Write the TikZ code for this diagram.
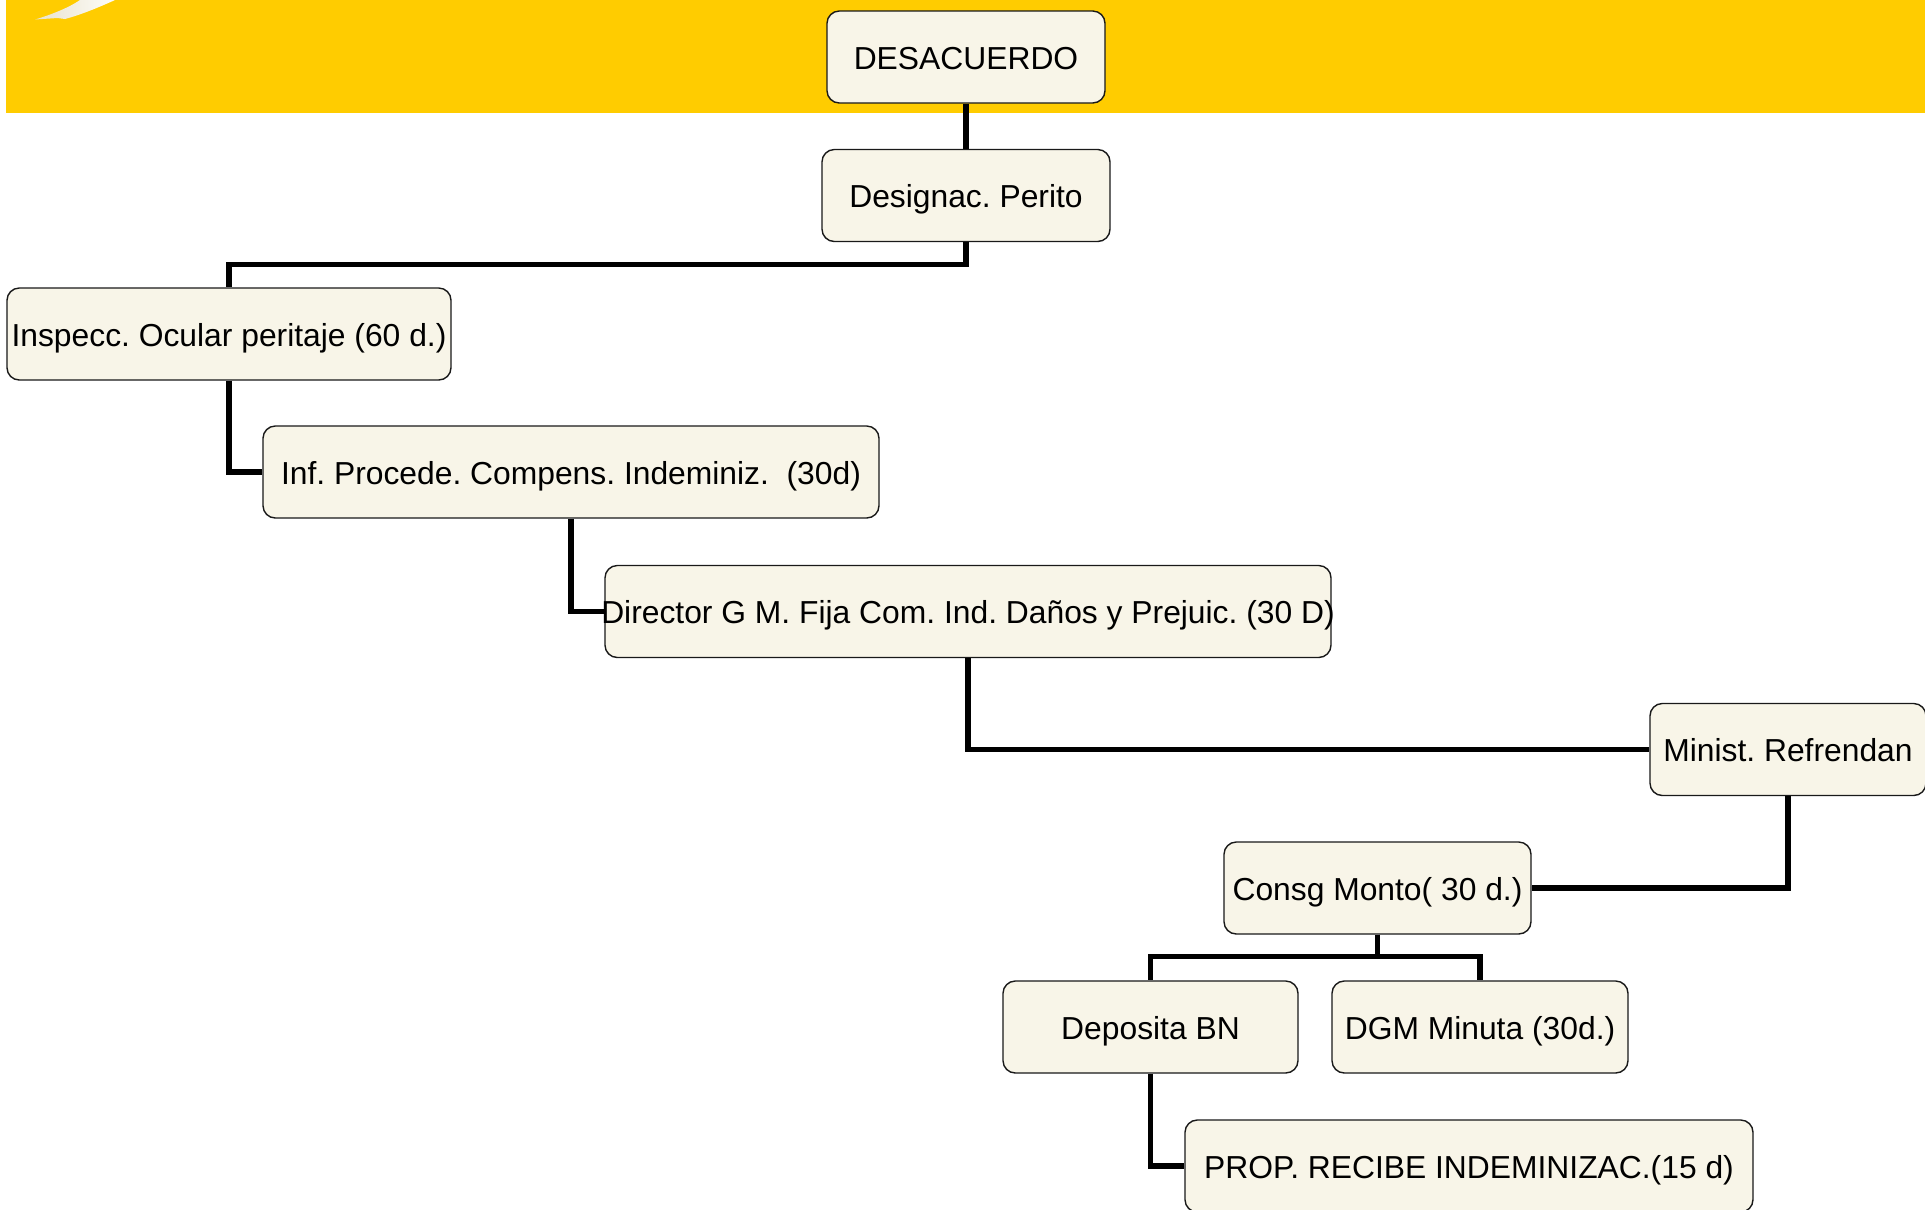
\documentclass[tikz,border=0pt]{standalone}
\usepackage{fontspec}
\setmainfont{Liberation Sans}
\frenchspacing

\definecolor{bandyellow}{HTML}{FFCC00}
\definecolor{boxcream}{HTML}{F8F5E8}
\definecolor{swooshcream}{HTML}{E9E2CC}

\begin{document}
\begin{tikzpicture}[
    font=\fontsize{18.1}{21}\selectfont,
    box/.style={draw=black!90, line width=0.8pt, rounded corners=7pt, fill=boxcream,
                minimum height=1.84cm, inner xsep=0pt, text centered,
                text height=14pt, text depth=0pt},
    link/.style={draw=black, line width=2.9pt}
]
\useasboundingbox (0,0) rectangle (38.5,-24.18);

%--------
% HEADER BAND
%--------
\fill[bandyellow] (0.12,0) rectangle (38.5,-2.26);
\shade[left color=swooshcream, right color=white!92!swooshcream]
    (0.70,-0.39) .. controls (1.00,-0.30) and (1.35,-0.17) .. (1.60,0)
    -- (2.30,0) .. controls (1.95,-0.16) and (1.60,-0.30) .. (1.30,-0.38)
    -- (1.15,-0.36) -- cycle;

%--------
% PROCESS STEPS
%--------
\node[box, minimum width=5.56cm]  (desac)  at (19.32, -1.14)  {DESACUERDO};
\node[box, minimum width=5.76cm]  (perito) at (19.32, -3.91)  {Designac. Perito};
\node[box, minimum width=8.88cm]  (insp)   at ( 4.58, -6.68)  {Inspecc. Ocular peritaje (60 d.)};
\node[box, minimum width=12.32cm] (inf)    at (11.42, -9.44)  {Inf. Procede. Compens. Indeminiz.~ (30d)};
\node[box, minimum width=14.52cm] (dir)    at (19.36, -12.23)
    {\makebox[0pt]{Director G M. Fija Com. Ind. Daños y Prejuic. (30 D)}};
\node[box, minimum width=5.52cm]  (minist) at (35.76, -14.99) {Minist. Refrendan};
\node[box, minimum width=6.14cm]  (consg)  at (27.55, -17.76) {Consg Monto( 30 d.)};
\node[box, minimum width=5.90cm]  (depo)   at (23.01, -20.54) {Deposita BN};
\node[box, minimum width=5.92cm]  (dgm)    at (29.60, -20.54) {DGM Minuta (30d.)};
\node[box, minimum width=11.36cm] (prop)   at (29.38, -23.32) {PROP. RECIBE INDEMINIZAC.(15 d)};

%--------
% CONNECTORS
%--------
\draw[link] (desac) -- (perito);
\draw[link] (perito.south) -- ++(0,-0.45) -| (insp.north);
\draw[link] (insp.south) |- (inf.west);
\draw[link] (inf.south) |- (dir.west);
\draw[link] (dir.south) |- (minist.west);
\draw[link] (minist.south) |- (consg.east);
\draw[link] (consg.south) -- ++(0,-0.44) -| (depo.north);
\draw[link] (consg.south) -- ++(0,-0.44) -| (dgm.north);
\draw[link] (depo.south) |- (prop.west);

\end{tikzpicture}
\end{document}
